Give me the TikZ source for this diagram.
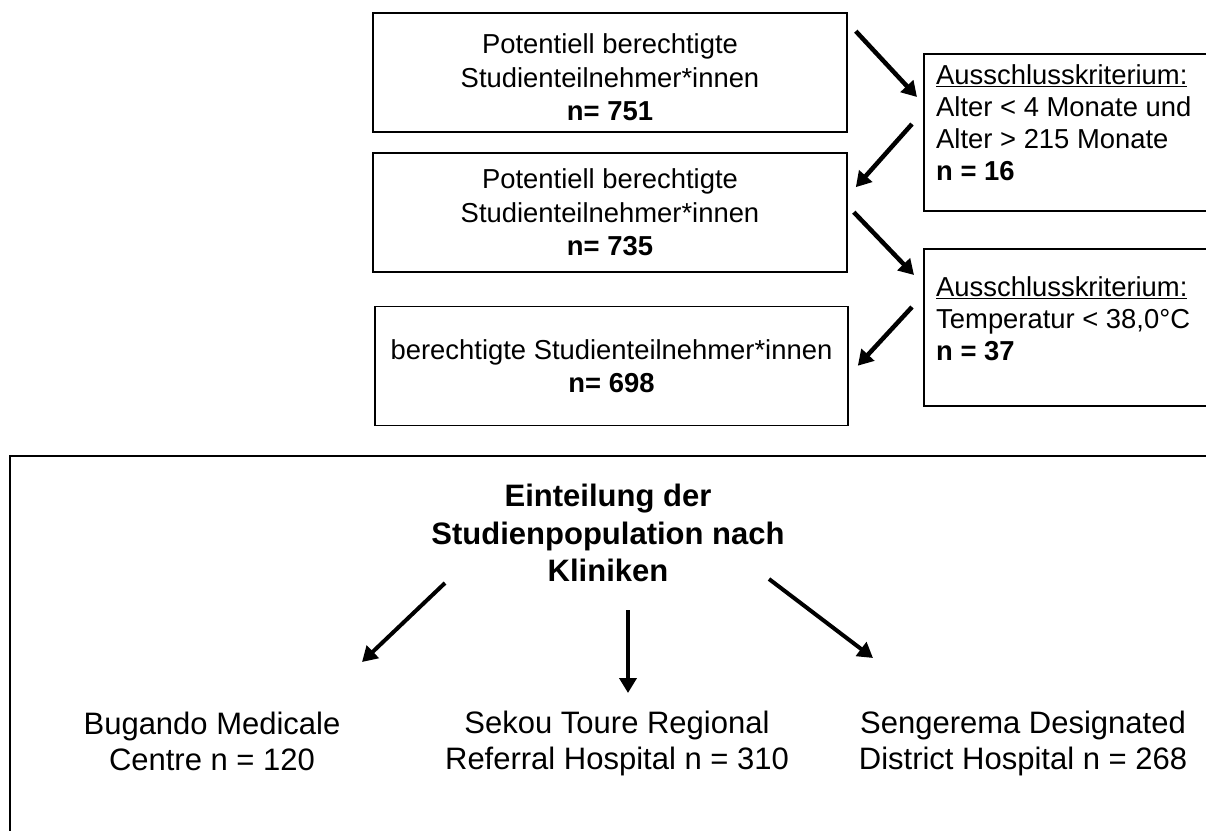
\documentclass[tikz,border=0pt]{standalone}
\usepackage{fontspec}
\setmainfont{Liberation Sans}
\usepackage{tikz}
\usetikzlibrary{arrows.meta,positioning}
\newcommand{\flowfont}{\fontsize{27.4}{33.5}\selectfont}
\newcommand{\kritlabel}{\underline{Ausschlusskriterium:}}

\begin{document}
\begin{tikzpicture}[x=1pt,y=-1pt,
  box/.style={draw,line width=1.6pt,minimum width=474pt,minimum height=119pt,
               align=center,font=\flowfont},
  exbox/.style={draw,line width=1.6pt,anchor=north west,minimum width=340pt},
  extext/.style={anchor=north west,inner sep=0pt,align=left,font=\fontsize{27.4}{32}\selectfont},
  clinic/.style={align=center,font=\fontsize{31}{36}\selectfont},
  arr/.style={-{Triangle[length=15pt,width=17pt]},line width=4.5pt}]
  \useasboundingbox (0,0) rectangle (1206,830);
  \clip (0,0) rectangle (1206,830);
  % Auswahl der Studienteilnehmer
  \node[box] (p751) at (610,72.5) {\rule{0pt}{30pt}Potentiell berechtigte\\Studienteilnehmer*innen\\\textbf{n= 751}};
  \node[box] (p735) at (610,212.5) {Potentiell berechtigte\\Studienteilnehmer*innen\\\textbf{n= 735}};
  \node[box,minimum width=473pt] (p698) at (611.5,366) {berechtigte Studienteilnehmer*innen\\\textbf{n= 698}};
  % Ausschlusskriterien
  \node[exbox,minimum height=157pt] (exAlter) at (923,53) {};
  \node[extext] (exAlterTxt) at (936,64) {\kritlabel\\Alter < 4 Monate und\\Alter > 215 Monate\\\textbf{n = 16}};
  \node[exbox,minimum height=157pt] (exTemp) at (923,248) {};
  \node[extext] (exTempTxt) at (936,276) {\kritlabel\\Temperatur < 38,0°C\\\textbf{n = 37}};
  \draw[arr] ([xshift=8pt,yshift=-19pt]p751.north east) -- ([xshift=-6pt,yshift=-44pt]exAlter.north west);
  \draw[arr] ([xshift=-11pt,yshift=-71pt]exAlter.north west) -- ([xshift=8pt,yshift=-35pt]p735.north east);
  \draw[arr] ([xshift=6pt,yshift=-60pt]p735.north east) -- ([xshift=-9pt,yshift=-27pt]exTemp.north west);
  \draw[arr] ([xshift=-11pt,yshift=-59pt]exTemp.north west) -- ([xshift=9pt,yshift=-60pt]p698.north east);
  % Einteilung nach Kliniken
  \node[draw,line width=1.6pt,anchor=north west,minimum width=1300pt,minimum height=420pt] (kliniken) at (9,455) {};
  \node[clinic,font=\bfseries\fontsize{31}{37.5}\selectfont] (einteilung) at (608,533) {Einteilung der\\Studienpopulation nach\\Kliniken};
  \node[clinic] (bugando) at (212,741) {Bugando Medicale\\Centre n = 120};
  \node[clinic] (sekou) at (617,743) {Sekou Toure Regional\\Referral Hospital n = 310};
  \node[clinic] (sengerema) at (1023,743) {Sengerema Designated\\District Hospital n = 268};
  \draw[arr,line width=4pt] ([xshift=-163pt,yshift=-50pt]einteilung.center) -- ([xshift=150pt,yshift=79pt]bugando.center);
  \draw[arr,line width=4.5pt] ([xshift=20pt,yshift=-77pt]einteilung.center) -- ([xshift=11pt,yshift=50pt]sekou.center);
  \draw[arr,line width=4pt] ([xshift=161pt,yshift=-46pt]einteilung.center) -- ([xshift=-150pt,yshift=85pt]sengerema.center);
\end{tikzpicture}
\end{document}
